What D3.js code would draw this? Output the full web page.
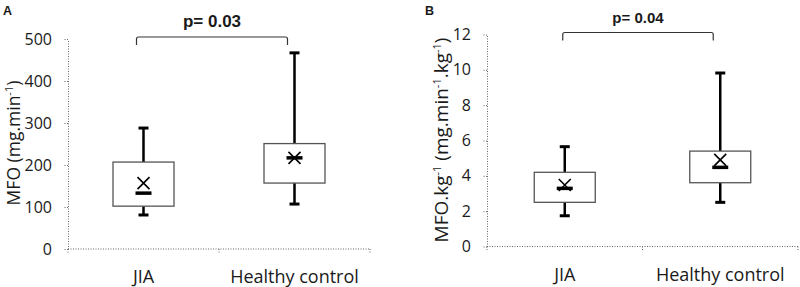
<!DOCTYPE html>
<html>
<head>
<meta charset="utf-8">
<script src="https://cdn.jsdelivr.net/npm/d3@7"></script>
<style>
  body { margin: 0; background: #fff; }
  svg text { fill: #1a1a1a; }
</style>
</head>
<body>
<div id="chart"></div>
<script>
// groups on the x axis
const groups = ["JIA", "Healthy control"];

// panel A: MFO (mg.min-1)
const mfoMin = [81, 107];
const mfoQ1 = [102, 157];
const mfoMedian = [133, 217];
const mfoQ3 = [207, 251];
const mfoMax = [288, 467];
const mfoMean = [157, 217];
const mfoTicks = [0, 100, 200, 300, 400, 500];

// panel B: MFO.kg-1 (mg.min-1.kg-1)
const mfoKgMin = [1.74, 2.5];
const mfoKgQ1 = [2.5, 3.61];
const mfoKgMedian = [3.29, 4.48];
const mfoKgQ3 = [4.2, 5.4];
const mfoKgMax = [5.65, 9.82];
const mfoKgMean = [3.48, 4.9];
const mfoKgTicks = [0, 2, 4, 6, 8, 10, 12];

const pValues = ["p= 0.03", "p= 0.04"];

const svg = d3.select("#chart")
    .append("svg")
    .attr("width", 800)
    .attr("height", 287);

const font = "'Open Sans', 'Noto Sans', sans-serif";

function drawPanel(p) {
    const g = svg.append("g");

    const y = d3.scaleLinear()
        .domain([0, p.ticks[p.ticks.length - 1]])
        .range([p.bottom, p.top]);

    const x = d3.scaleBand()
        .domain(groups)
        .range([p.left, p.right])
        .padding(0);

    // y axis (dotted)
    const yAxis = g.append("g")
        .attr("transform", `translate(${p.left},0)`)
        .call(d3.axisLeft(y).tickValues(p.ticks).tickSize(4).tickSizeOuter(0).tickPadding(12));
    yAxis.selectAll("path, line")
        .attr("stroke", "#666")
        .attr("stroke-dasharray", "1,1.5");
    yAxis.selectAll("text")
        .style("font-family", font)
        .style("font-size", "16px")
        .attr("fill", "#1a1a1a");

    // x axis: dotted baseline, ticks at band edges
    g.append("line")
        .attr("x1", p.left).attr("x2", p.right)
        .attr("y1", y(0)).attr("y2", y(0))
        .attr("stroke", "#666")
        .attr("stroke-dasharray", "1,1.5");
    const edges = [p.left, x(groups[1]), p.right];
    g.selectAll(".xtick")
        .data(edges)
        .join("line")
        .attr("x1", d => d).attr("x2", d => d)
        .attr("y1", y(0)).attr("y2", y(0) + 5)
        .attr("stroke", "#666")
        .attr("stroke-dasharray", "1,1.5");
    g.selectAll(".xlabel")
        .data(groups)
        .join("text")
        .attr("x", d => x(d) + x.bandwidth() / 2)
        .attr("y", y(0) + 34)
        .attr("text-anchor", "middle")
        .style("font-family", font)
        .style("font-size", "18px")
        .text(d => d);

    // y label
    const yl = g.append("text")
        .attr("transform", `translate(${p.labelX},${p.labelY}) rotate(-90)`)
        .attr("text-anchor", "middle")
        .style("font-family", font)
        .style("font-size", p.labelSize + "px");
    p.label.forEach(part => {
        const t = yl.append("tspan").text(part.t);
        if (part.sup) t.attr("dy", -7).style("font-size", "11px");
        if (part.after) t.attr("dy", 7);
    });

    // panel letter
    g.append("text")
        .attr("x", p.letterX).attr("y", 15)
        .style("font-family", "Arial, 'Liberation Sans', sans-serif")
        .style("font-weight", "bold")
        .style("font-size", "12.5px")
        .text(p.letter);

    const boxW = 61;
    groups.forEach((grp, i) => {
        const cx = x(grp) + x.bandwidth() / 2;
        // whiskers
        g.append("line")
            .attr("x1", cx).attr("x2", cx)
            .attr("y1", y(p.max[i])).attr("y2", y(p.q3[i]))
            .attr("stroke", "#000").attr("stroke-width", 2.5);
        g.append("line")
            .attr("x1", cx).attr("x2", cx)
            .attr("y1", y(p.q1[i])).attr("y2", y(p.min[i]))
            .attr("stroke", "#000").attr("stroke-width", 2.5);
        [p.max[i], p.min[i]].forEach(v => {
            g.append("line")
                .attr("x1", cx - 5).attr("x2", cx + 5)
                .attr("y1", y(v)).attr("y2", y(v))
                .attr("stroke", "#000").attr("stroke-width", 3);
        });
        // box
        g.append("rect")
            .attr("x", cx - boxW / 2)
            .attr("y", y(p.q3[i]))
            .attr("width", boxW)
            .attr("height", y(p.q1[i]) - y(p.q3[i]))
            .attr("fill", "#fff")
            .attr("stroke", "#555")
            .attr("stroke-width", 1.3);
        // median
        g.append("line")
            .attr("x1", cx - 8).attr("x2", cx + 8)
            .attr("y1", y(p.median[i])).attr("y2", y(p.median[i]))
            .attr("stroke", "#000").attr("stroke-width", 3.5);
        // mean (x marker)
        const my = y(p.mean[i]);
        g.append("path")
            .attr("d", `M${cx - 6},${my - 6}L${cx + 6},${my + 6}M${cx - 6},${my + 6}L${cx + 6},${my - 6}`)
            .attr("stroke", "#000").attr("stroke-width", 1.6);
    });

    // significance bracket
    const bx1 = x(groups[0]) + x.bandwidth() / 2 + p.bracketOff[0];
    const bx2 = x(groups[1]) + x.bandwidth() / 2 + p.bracketOff[1];
    g.append("path")
        .attr("d", `M${bx1},${p.bracketY + 8}L${bx1},${p.bracketY + 2}Q${bx1},${p.bracketY} ${bx1 + 2},${p.bracketY}L${bx2 - 2},${p.bracketY}Q${bx2},${p.bracketY} ${bx2},${p.bracketY + 2}L${bx2},${p.bracketY + 8}`)
        .attr("fill", "none")
        .attr("stroke", "#333")
        .attr("stroke-width", 1.2);
    g.append("text")
        .attr("x", (bx1 + bx2) / 2)
        .attr("y", p.pY)
        .attr("text-anchor", "middle")
        .style("font-family", "Arial, 'Liberation Sans', sans-serif")
        .style("font-weight", "bold")
        .style("font-size", p.pSize + "px")
        .text(p.pText);
}

drawPanel({
    left: 68, right: 370, top: 39, bottom: 249,
    ticks: mfoTicks,
    min: mfoMin, q1: mfoQ1, median: mfoMedian, q3: mfoQ3, max: mfoMax, mean: mfoMean,
    label: [{ t: "MFO (mg.min" }, { t: "-1", sup: true }, { t: ")", after: true }],
    labelX: 20, labelY: 143, labelSize: 17.5,
    letter: "A", letterX: 3,
    bracketY: 37, bracketOff: [-7, -7], pText: pValues[0], pY: 27, pSize: 17
});

drawPanel({
    left: 487, right: 798, top: 34.5, bottom: 246.5,
    ticks: mfoKgTicks,
    min: mfoKgMin, q1: mfoKgQ1, median: mfoKgMedian, q3: mfoKgQ3, max: mfoKgMax, mean: mfoKgMean,
    label: [{ t: "MFO.kg" }, { t: "-1", sup: true }, { t: " (mg.min", after: true }, { t: "-1", sup: true }, { t: ".kg", after: true }, { t: "-1", sup: true }, { t: ")", after: true }],
    labelX: 448, labelY: 140, labelSize: 19,
    letter: "B", letterX: 425,
    bracketY: 32.5, bracketOff: [-2, -7], pText: pValues[1], pY: 23, pSize: 15
});
</script>
</body>
</html>
